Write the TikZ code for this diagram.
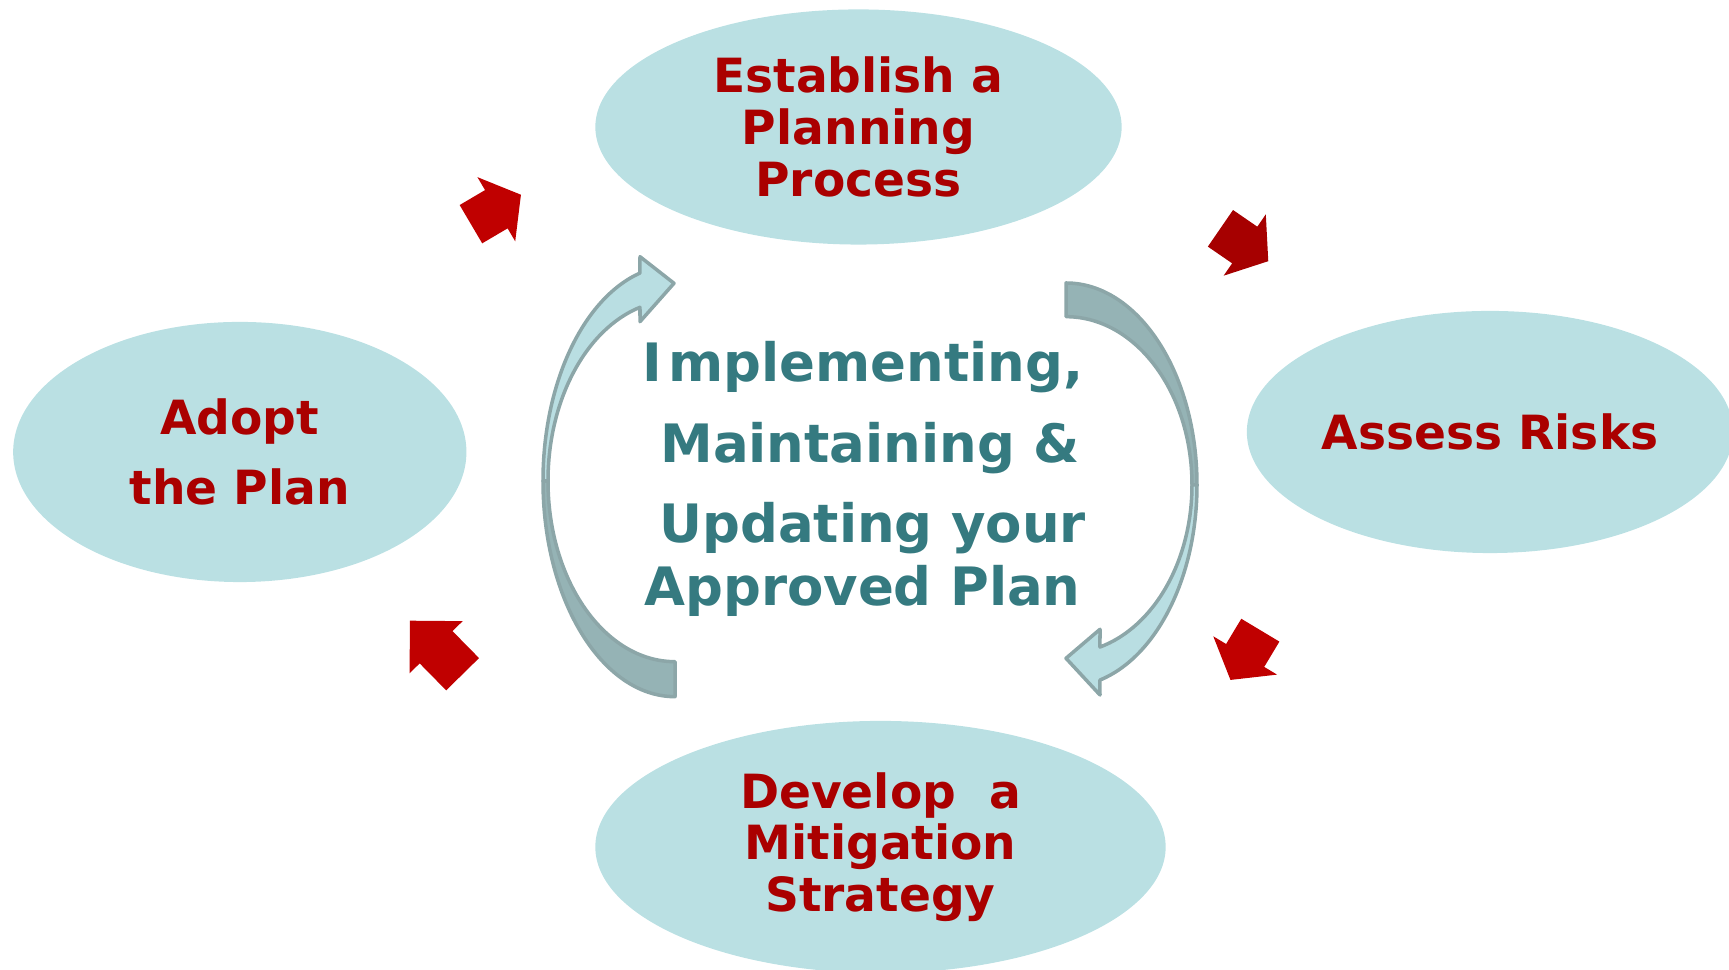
\documentclass[tikz,border=0pt]{standalone}
\usepackage{fontspec}
\setmainfont{DejaVu Sans}
\usetikzlibrary{shapes.geometric,shapes.arrows}
\definecolor{phasefill}{RGB}{186,224,227}
\definecolor{phasered}{RGB}{170,0,0}
\definecolor{coreteal}{RGB}{53,122,128}
\definecolor{turnred}{RGB}{192,0,0}
\definecolor{turnreddark}{RGB}{166,0,0}
\definecolor{bandlight}{RGB}{185,222,226}
\definecolor{banddark}{RGB}{149,179,181}
\definecolor{bandline}{RGB}{140,166,168}

\begin{document}
\begin{tikzpicture}[
    x=0.01cm, y=0.01cm,
    phase/.style={ellipse, fill=phasefill, inner sep=0pt, align=center, text=phasered,
        font=\bfseries\fontsize{13.4}{14.7}\selectfont},
    core/.style={anchor=base, inner sep=0pt, text=coreteal, font=\bfseries\fontsize{15.05}{17}\selectfont},
    turn/.style={single arrow, fill=turnred, inner xsep=0pt, inner ysep=0.215cm, text height=0pt, text depth=0pt,
        minimum width=0pt, single arrow head extend=0.15cm, single arrow tip angle=105, minimum height=0.58cm, anchor=tip},
    bandfront/.style={fill=bandlight, draw=bandline, line width=0.035cm, line join=round},
    bandback/.style={fill=banddark, draw=bandline, line width=0.035cm, line join=round}
]
\useasboundingbox (0,0) rectangle (1729,970);
\clip (0,0) rectangle (1729,970);

\node[phase, minimum width=5.26cm, minimum height=2.35cm] (establish) at (858.5,843) {Establish a\\Planning\\Process};
\node[phase, minimum width=4.86cm, minimum height=2.42cm] (assess) at (1490,538) {Assess Risks};
\node[phase, minimum width=5.70cm, minimum height=2.52cm, font=\bfseries\fontsize{13.4}{14.7}\selectfont] (develop) at (880.5,123) {Develop\ \ a\\Mitigation\\Strategy};
\node[phase, minimum width=4.53cm, minimum height=2.60cm, font=\bfseries\fontsize{13.4}{20.1}\selectfont] (adopt) at (239.8,518) {Adopt\\the Plan};

\begin{scope}[shift={(675,489)}]
\draw[bandback] (180:132 and 215.7) arc[start angle=180, end angle=270, x radius=132, y radius=215.7]
    -- (270:127 and 180.7) arc[start angle=270, end angle=180, x radius=127, y radius=180.7] -- cycle;
\draw[bandfront] (180:132 and 215.7) arc[start angle=180, end angle=105.4, x radius=132, y radius=215.7]
    -- (-35,224.3) -- (-1,197.7) -- (-35,159.3)
    -- (106:127 and 180.7) arc[start angle=106, end angle=180, x radius=127, y radius=180.7] -- cycle;
\end{scope}
\begin{scope}[shift={(1066,485)}]
\draw[bandback] (90:131 and 202) arc[start angle=90, end angle=0, x radius=131, y radius=202]
    -- (0:126 and 168.3) arc[start angle=0, end angle=90, x radius=126, y radius=168.3] -- cycle;
\draw[bandfront] (0:131 and 202) arc[start angle=0, end angle=-75, x radius=131, y radius=202]
    -- (34,-210) -- (0,-173.3) -- (34,-144.3)
    -- (-74.35:126 and 168.3) arc[start angle=-74.35, end angle=0, x radius=126, y radius=168.3] -- cycle;
\end{scope}

\node[core] (implement) at (863,588.3) {I\kern0.12em mplementing,};
\node[core] (maintain) at (870,507.3) {Maintaining \&};
\node[core] (update) at (872.5,427.3) {Updating your};
\node[core] (approved) at (862.5,364) {Approved Plan};

\node[turn, rotate=30.5] (toestablish) at (521.7,775.7) {};
\node[turn, fill=turnreddark, rotate=-34.5] (toassess) at (1269,708.3) {};
\node[turn, rotate=-121] (todevelop) at (1230,289.3) {};
\node[turn, rotate=134.5, minimum height=0.75cm, single arrow tip angle=90, inner ysep=0.223cm,
    single arrow head extend=0.142cm] (toadopt) at (409.3,350) {};
\end{tikzpicture}
\end{document}
